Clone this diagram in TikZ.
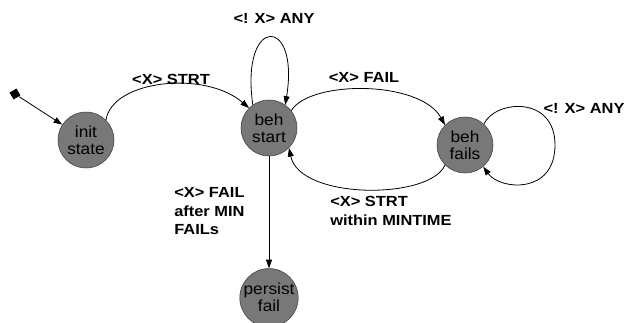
\documentclass[tikz,border=0pt]{standalone}
\usepackage{fontspec}
\setmainfont{Liberation Sans}
\newfontfamily\edgefont[FakeStretch=1.12]{Liberation Sans}
\newfontfamily\statefont[FakeStretch=1.08]{Liberation Sans}
\usetikzlibrary{arrows.meta, positioning}
\definecolor{statefill}{RGB}{120,120,120}
\definecolor{stateline}{RGB}{60,60,60}
\tikzset{
    base/.style={inner sep=0pt, align=center},
    state/.style={base, circle, draw=stateline, fill=statefill, minimum size=42pt, font=\statefont\fontsize{12}{12.75}\selectfont},
    entry/.style={rectangle, fill=black, minimum size=6pt, inner sep=0pt, rotate=30},
    tag/.style={base, font=\edgefont\bfseries\fontsize{11}{14}\selectfont},
    line/.style={draw=black, line width=0.6pt, -{Triangle[length=6.5pt, width=4.5pt]}}
}

\begin{document}
\begin{tikzpicture}[x=0.75pt, y=-0.75pt]
    \useasboundingbox (0,0) rectangle (624,322);

    \node [state] (init) at (86,140) {init\\state};
    \node [state] (start) at (269,128) {beh\\start};
    \node [state] (fails) at (465,145) {beh\\fails};
    \node [state, below=84pt of start] (persist) {persist\\fail};
    \node [entry] (dot) at (15,94) {};

    \node [tag] (strtlabel) at (171,79) {<X> STRT};
    \node [tag] (startloop) at (274,18) {<! X> ANY};
    \node [tag] (faillabel) at (364,77) {<X> FAIL};
    \node [tag, anchor=north west, align=left] (backlabel) at (330,196) {<X> STRT\\within MINTIME};
    \node [tag] (failsloop) at (584,108) {<! X> ANY};
    \node [tag, anchor=north west, align=left] (persistlabel) at (174,187) {<X> FAIL\\after MIN\\FAILs};

    \draw [line] (dot) -- (init);
    \draw [line] (init.45) .. controls (112,80) and (205,70) .. (start.135);
    \draw [line] (start.125) .. controls (240,15) and (300,15) .. (start.55);
    \draw [line] (start.38) .. controls (310,80) and (420,80) .. (fails.135);
    \draw [line] (fails.225) .. controls (430,200) and (300,200) .. (start.-45);
    \draw [line] (fails.48) .. controls (495,100) and (555,95) .. (555,145) .. controls (555,195) and (500,190) .. (fails.-50);
    \draw [line] (start) -- (persist);
\end{tikzpicture}
\end{document}
